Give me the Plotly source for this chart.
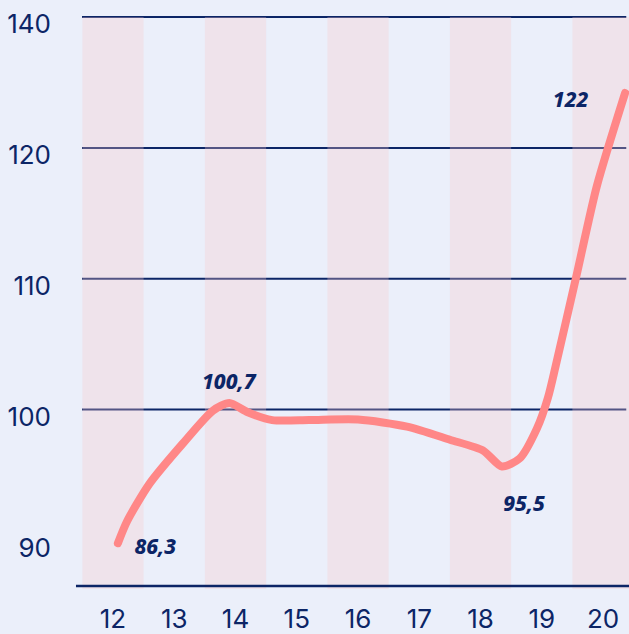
import plotly.graph_objects as go

# ---- data ----
categories = [12, 13, 14, 15, 16, 17, 18, 19, 20]
shaded_categories = [12, 14, 16, 18, 20]

line_x = [12.08, 12.23, 12.6, 13.14, 13.63, 13.9, 14.2, 14.6, 15.2, 16.0,
          16.8, 17.5, 18.04, 18.35, 18.64, 18.92, 19.1, 19.23, 19.56, 19.9, 20.36]
line_y = [89.79, 91.47, 94.36, 97.41, 99.92, 100.5, 99.8, 99.2, 99.2, 99.24,
          98.7, 97.7, 96.88, 95.65, 96.27, 98.55, 100.9, 103.4, 110.1, 117.1, 124.2]

label_text = ["86,3", "100,7", "95,5", "122"]
label_x = [12.69, 13.89, 18.71, 19.47]
label_y = [89.4, 101.95, 92.65, 123.55]

ytick_vals = [90, 100, 110, 120, 130]
ytick_text = ["90", "100", "110", "120", "140"]
grid_vals = [100, 110, 120, 130]

NAVY = "#0c2566"
BG = "#ebeffa"
LINE = "#ff8787"

fig = go.Figure()

fig.add_trace(go.Scatter(
    x=line_x, y=line_y, mode="lines",
    line=dict(color=LINE, width=8, shape="spline", smoothing=0.7),
    hoverinfo="skip", showlegend=False, cliponaxis=True,
))

fig.add_trace(go.Scatter(
    x=label_x, y=label_y, mode="text", text=label_text,
    textfont=dict(family="Noto Sans", size=21, color=NAVY, weight=800, style="italic"),
    hoverinfo="skip", showlegend=False, cliponaxis=False,
))

shapes = []
for c in shaded_categories:
    shapes.append(dict(type="rect", xref="x", yref="y", x0=c - 0.5, x1=c + 0.5,
                       y0=86.29, y1=130, fillcolor="rgba(248,199,203,0.3)",
                       line=dict(width=0), layer="between"))
for g in grid_vals:
    shapes.append(dict(type="line", xref="paper", yref="y", x0=0, x1=0.995,
                       y0=g, y1=g, line=dict(color=NAVY, width=2), layer="below"))
shapes.append(dict(type="line", xref="paper", yref="y", x0=-0.011, x1=1,
                   y0=86.52, y1=86.52, line=dict(color=NAVY, width=2.5), layer="above"))

fig.update_layout(
    width=629, height=634,
    margin=dict(l=82, r=0, t=10, b=43),
    paper_bgcolor=BG, plot_bgcolor=BG,
    shapes=shapes,
    xaxis=dict(range=[11.494, 20.424], tickvals=categories,
               ticktext=[str(c) for c in categories],
               showgrid=False, zeroline=False, showline=False, ticks="",
               tickfont=dict(family="Inter", size=26, color=NAVY),
               ticklabelstandoff=12, fixedrange=True),
    yaxis=dict(range=[86.29, 130.54], tickvals=ytick_vals, ticktext=ytick_text,
               showgrid=False, zeroline=False, showline=False, ticks="",
               tickfont=dict(family="Inter", size=26, color=NAVY),
               ticklabelstandoff=30, ticklabelshift=7, fixedrange=True),
)

fig.write_html(
    "out.html",
    config={"displayModeBar": False},
    post_script=(
        "document.body.style.margin='0';document.body.style.background='%s';"
        "document.querySelectorAll('.js-line').forEach(function(p){"
        "p.style.strokeLinecap='round';p.style.strokeLinejoin='round';});" % BG
    ),
)
